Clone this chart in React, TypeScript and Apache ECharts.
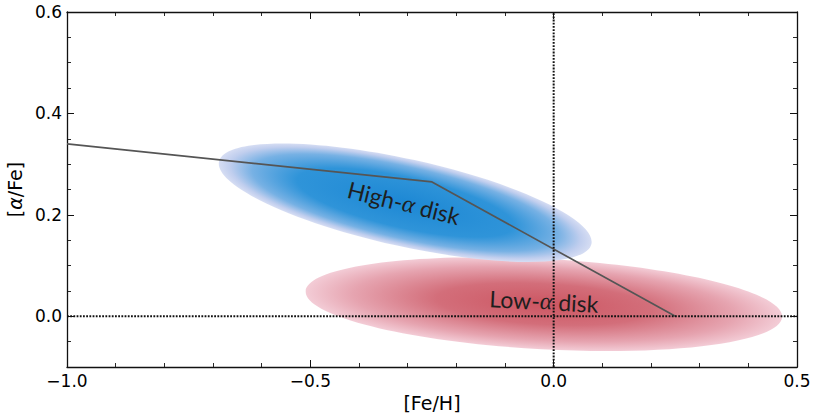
import React, { useEffect, useRef } from "react";
import * as echarts from "echarts";

// Axis ranges
const feHRange = [-1.0, 0.5];
const alphaRange = [-0.1, 0.6];
const alphaMajorTicks = [0.0, 0.2, 0.4, 0.6];

// Disk populations (index 0: low-alpha, index 1: high-alpha)
const popNames = ["Low", "High"];
const popCenterFeH = [-0.02, -0.305];
const popCenterAlpha = [0.024, 0.224];
const popHalfWidthFeH = [0.49, 0.392];
const popHalfHeightAlpha = [0.089, 0.086];
const popTiltDeg = [3.1, 12.5];

// Population labels
const labelFeH = [-0.02, -0.308];
const labelAlpha = [0.03, 0.224];
const labelTiltDeg = [3, 14];

// Dividing line between the two sequences
const dividerFeH = [-1.0, -0.25, 0.25];
const dividerAlpha = [0.34, 0.265, 0.0];

const popGradients = [
  [
    { offset: 0, color: "#cc5662" },
    { offset: 0.45, color: "#d36e7a" },
    { offset: 0.8, color: "#e6a4b0" },
    { offset: 1, color: "#f3ccd6" },
  ],
  [
    { offset: 0, color: "#1d88d4" },
    { offset: 0.58, color: "#2f94d9" },
    { offset: 0.82, color: "#77b1e4" },
    { offset: 0.94, color: "#c0ceee" },
    { offset: 1, color: "#d6ddf3" },
  ],
];

const fmt = (v: number) => (v < -1e-9 ? "\u2212" : "") + Math.abs(v).toFixed(1);

const TICK_FONT = "DejaVu Sans";

export default function App() {
  const ref = useRef<HTMLDivElement>(null);

  useEffect(() => {
    if (!ref.current) return;
    const chart = echarts.init(ref.current, undefined, { renderer: "svg" });

    const frameLine = { show: true, onZero: false, lineStyle: { color: "#111", width: 1.3 } };

    const xBase = (pos: "bottom" | "top", labels: boolean) => ({
      type: "value" as const,
      position: pos,
      min: feHRange[0],
      max: feHRange[1],
      interval: 0.5,
      axisLine: frameLine,
      splitLine: { show: false },
      axisTick: { show: true, inside: true, length: 7, lineStyle: { color: "#111", width: 1 } },
      minorTick: { show: true, splitNumber: 5, length: 4, lineStyle: { color: "#111", width: 0.9 } },
      axisLabel: labels
        ? { show: true, formatter: fmt, fontFamily: TICK_FONT, fontSize: 17, color: "#000", margin: 5 }
        : { show: false },
      ...(labels
        ? {
            name: "[Fe/H]",
            nameLocation: "middle" as const,
            nameGap: 24,
            nameTextStyle: { fontFamily: TICK_FONT, fontSize: 19, color: "#000" },
          }
        : {}),
    });

    const yMinor = (pos: "left" | "right", labels: boolean) => ({
      type: "value" as const,
      position: pos,
      min: alphaRange[0],
      max: alphaRange[1],
      interval: 0.05,
      axisLine: frameLine,
      splitLine: { show: false },
      axisTick: { show: true, inside: true, length: 4, lineStyle: { color: "#111", width: 0.9 } },
      axisLabel: labels
        ? {
            show: true,
            customValues: alphaMajorTicks,
            formatter: fmt,
            fontFamily: TICK_FONT,
            fontSize: 17,
            color: "#000",
            margin: 5,
          }
        : { show: false },
      ...(labels
        ? {
            name: "[{a|\u03b1}/Fe]",
            nameLocation: "middle" as const,
            nameGap: 38,
            nameRotate: 90,
            nameTextStyle: {
              fontFamily: TICK_FONT,
              fontSize: 19,
              color: "#000",
              rich: { a: { fontFamily: "DejaVu Sans", fontStyle: "italic", fontSize: 19, color: "#000" } },
            },
          }
        : {}),
    });

    const yMajor = (pos: "left" | "right") => ({
      type: "value" as const,
      position: pos,
      min: alphaRange[0],
      max: alphaRange[1],
      axisLine: { show: false, onZero: false },
      splitLine: { show: false },
      axisTick: {
        show: true,
        inside: true,
        length: 7,
        customValues: alphaMajorTicks,
        lineStyle: { color: "#111", width: 1 },
      },
      axisLabel: { show: false },
    });

    const popData = popNames.map((_, i) => [
      popCenterFeH[i],
      popCenterAlpha[i],
      popHalfWidthFeH[i],
      popHalfHeightAlpha[i],
      popTiltDeg[i],
      i,
    ]);

    const labelData = popNames.map((_, i) => [labelFeH[i], labelAlpha[i], labelTiltDeg[i], i]);

    const dotted = { color: "#111", width: 2, type: [1.8, 1.4] };

    chart.setOption({
      animation: false,
      backgroundColor: "#ffffff",
      grid: { left: 67, right: 17, top: 12, bottom: 47, containLabel: false, outerBoundsMode: "none" },
      xAxis: [xBase("bottom", true), xBase("top", false)],
      yAxis: [yMinor("left", true), yMajor("left"), yMinor("right", false), yMajor("right")],
      series: [
        {
          type: "custom",
          name: "populations",
          coordinateSystem: "cartesian2d",
          xAxisIndex: 0,
          yAxisIndex: 0,
          z: 1,
          silent: true,
          encode: { x: 0, y: 1 },
          data: popData,
          renderItem: (_params: any, api: any) => {
            const c = api.coord([api.value(0), api.value(1)]);
            const rx = api.size([api.value(2), 0])[0];
            const ry = api.size([0, api.value(3)])[1];
            const idx = api.value(5);
            return {
              type: "ellipse",
              x: c[0],
              y: c[1],
              rotation: (-api.value(4) * Math.PI) / 180,
              shape: { cx: 0, cy: 0, rx, ry },
              style: {
                fill: {
                  type: "radial",
                  x: 0.5,
                  y: 0.5,
                  r: 0.5,
                  colorStops: popGradients[idx],
                  global: false,
                },
              },
            };
          },
        },
        {
          type: "line",
          name: "divider",
          xAxisIndex: 0,
          yAxisIndex: 0,
          z: 3,
          silent: true,
          symbol: "none",
          lineStyle: { color: "#555555", width: 1.7 },
          data: dividerFeH.map((x, i) => [x, dividerAlpha[i]]),
        },
        {
          type: "line",
          name: "solar-feh",
          xAxisIndex: 0,
          yAxisIndex: 0,
          z: 4,
          silent: true,
          symbol: "none",
          lineStyle: dotted,
          data: [
            [0, alphaRange[0]],
            [0, alphaRange[1]],
          ],
        },
        {
          type: "line",
          name: "solar-alpha",
          xAxisIndex: 0,
          yAxisIndex: 0,
          z: 4,
          silent: true,
          symbol: "none",
          lineStyle: dotted,
          data: [
            [feHRange[0], 0],
            [feHRange[1], 0],
          ],
        },
        {
          type: "custom",
          name: "labels",
          coordinateSystem: "cartesian2d",
          xAxisIndex: 0,
          yAxisIndex: 0,
          z: 6,
          silent: true,
          encode: { x: 0, y: 1 },
          data: labelData,
          renderItem: (_params: any, api: any) => {
            const c = api.coord([api.value(0), api.value(1)]);
            const idx = api.value(3);
            return {
              type: "text",
              x: c[0],
              y: c[1],
              rotation: (-api.value(2) * Math.PI) / 180,
              style: {
                text: `{t|${popNames[idx]}-}{a|\u03b1}{t| disk}`,
                align: "center",
                verticalAlign: "middle",
                rich: {
                  t: { fontFamily: "Lato", fontSize: 23, fill: "#1e1e1e" },
                  a: { fontFamily: "Liberation Serif", fontStyle: "italic", fontSize: 24, fill: "#1e1e1e" },
                },
              },
            };
          },
        },
      ],
    });

    return () => chart.dispose();
  }, []);

  return <div ref={ref} style={{ position: "fixed", left: 0, top: 0, width: 814, height: 414 }} />;
}
